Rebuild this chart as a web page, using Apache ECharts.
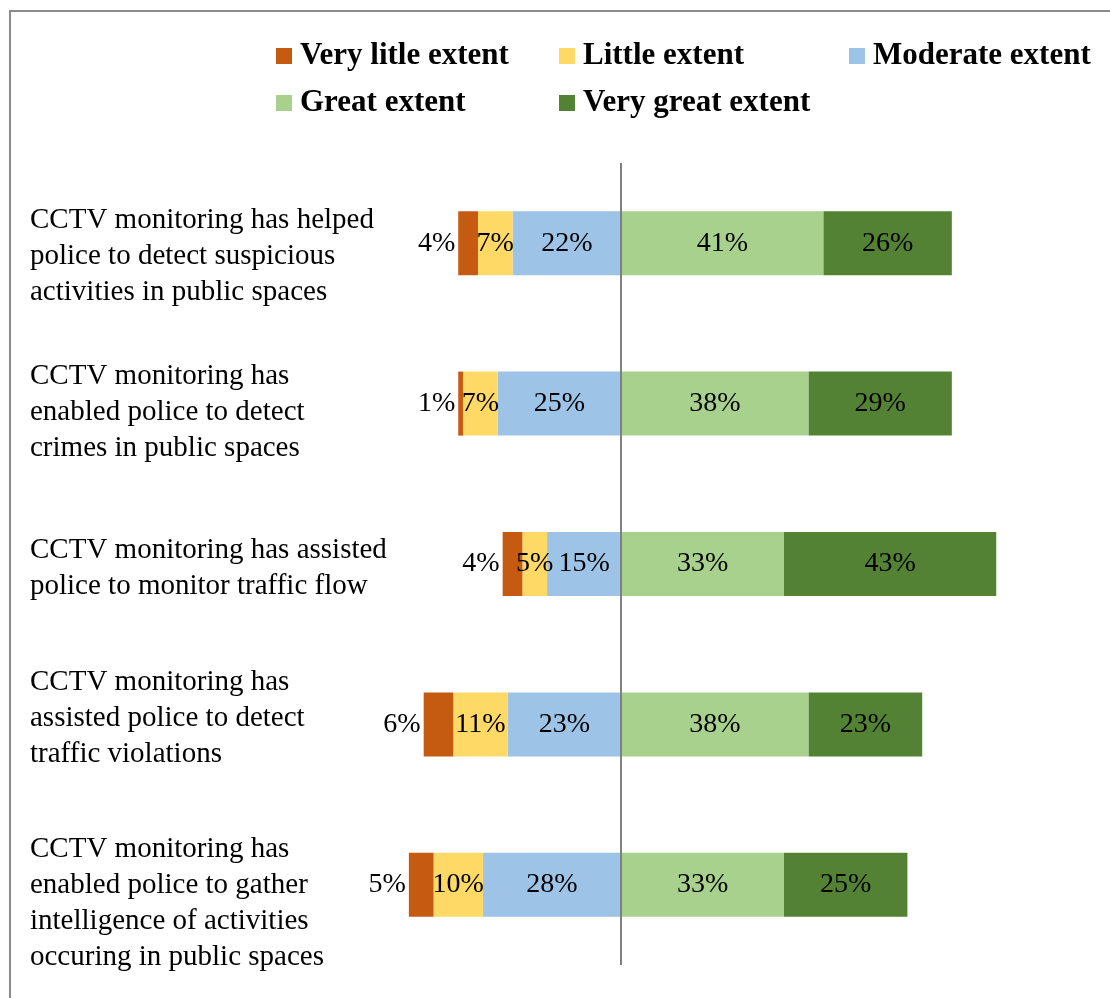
<!DOCTYPE html>
<html>
<head>
<meta charset="utf-8">
<script src="https://cdn.jsdelivr.net/npm/echarts@6/dist/echarts.min.js"></script>
<style>html,body{margin:0;padding:0;background:#fff;}#c{width:1110px;height:998px;}</style>
</head>
<body>
<div id="c"></div>
<script>
const categories = [
  'CCTV monitoring has helped\npolice to detect suspicious\nactivities in public spaces',
  'CCTV monitoring has\nenabled police to detect\ncrimes in public spaces',
  'CCTV monitoring has assisted\npolice to monitor traffic flow',
  'CCTV monitoring has\nassisted police to detect\ntraffic violations',
  'CCTV monitoring has\nenabled police to gather\nintelligence of activities\noccuring in public spaces'
];
const seriesNames = ['Very litle extent', 'Little extent', 'Moderate extent', 'Great extent', 'Very great extent'];
const veryLittle = [4, 1, 4, 6, 5];
const little = [7, 7, 5, 11, 10];
const moderate = [22, 25, 15, 23, 28];
const great = [41, 38, 33, 38, 33];
const veryGreat = [26, 29, 43, 23, 25];
const colors = ['#C55A11', '#FFD966', '#9DC3E6', '#A9D18E', '#548235'];
// vertical label shift (style only, px; positive = down)
const labelShift = [13, 9, 4, -6, 19];

const FONT = '"Liberation Serif", "Times New Roman", serif';
const chart = echarts.init(document.getElementById('c'));

function mk(name, vals, color, neg, pos) {
  return {
    name: name, type: 'bar', stack: 'all', barWidth: 64,
    data: vals.map(v => neg ? -v : v),
    itemStyle: { color: color },
    label: {
      show: true, position: pos || 'inside', distance: 3,
      color: '#000', fontFamily: FONT, fontSize: 28,
      formatter: p => Math.abs(p.value) + '%'
    }
  };
}

const legendText = { fontFamily: FONT, fontSize: 31, fontWeight: 'bold', color: '#000', lineHeight: 32, padding: [0,0,0,3] };

const series = [
  mk(seriesNames[2], moderate, colors[2], true),
  mk(seriesNames[1], little, colors[1], true),
  mk(seriesNames[0], veryLittle, colors[0], true, 'left'),
  mk(seriesNames[3], great, colors[3], false),
  mk(seriesNames[4], veryGreat, colors[4], false)
];
series[0].markLine = {
  silent: true, symbol: 'none', label: { show: false },
  lineStyle: { color: '#808080', width: 2, type: 'solid' },
  data: [{ xAxis: 0 }]
};

const rich = {};
labelShift.forEach((s, i) => {
  rich['sp' + i] = { fontSize: 2, lineHeight: Math.abs(s) * 2 };
});

chart.setOption({
  animation: false,
  backgroundColor: '#fff',
  graphic: [{
    type: 'rect', shape: { x: 10, y: 11, width: 1200, height: 1100 },
    style: { fill: 'none', stroke: '#8a8a8a', lineWidth: 2 }, silent: true
  }],
  legend: [{
    left: 276, top: 40, padding: 0, itemWidth: 16, itemHeight: 16, itemGap: 15, icon: 'rect',
    data: [
      { name: seriesNames[0], textStyle: Object.assign({}, legendText, { width: 244 }) },
      { name: seriesNames[1], textStyle: Object.assign({}, legendText, { width: 251 }) },
      { name: seriesNames[2], textStyle: legendText }
    ],
    textStyle: legendText
  }, {
    left: 276, top: 87, padding: 0, itemWidth: 16, itemHeight: 16, itemGap: 15, icon: 'rect',
    data: [
      { name: seriesNames[3], textStyle: Object.assign({}, legendText, { width: 244 }) },
      { name: seriesNames[4], textStyle: legendText }
    ],
    textStyle: legendText
  }],
  grid: { left: 399, right: 94, top: 163, bottom: 33, containLabel: false, outerBoundsMode: 'none' },
  xAxis: {
    type: 'value', min: -45, max: 80, show: false
  },
  yAxis: {
    type: 'category',
    data: categories,
    inverse: true,
    axisLine: { show: false }, axisTick: { show: false }, splitLine: { show: false },
    axisLabel: {
      align: 'left', margin: 369, color: '#000',
      fontFamily: FONT, fontSize: 29, lineHeight: 36,
      rich: rich,
      formatter: function (v, i) {
        const s = labelShift[i];
        if (!s) return v;
        return s > 0 ? '{sp' + i + '| }\n' + v : v + '\n{sp' + i + '| }';
      }
    }
  },
  series: series
});
</script>
</body>
</html>
